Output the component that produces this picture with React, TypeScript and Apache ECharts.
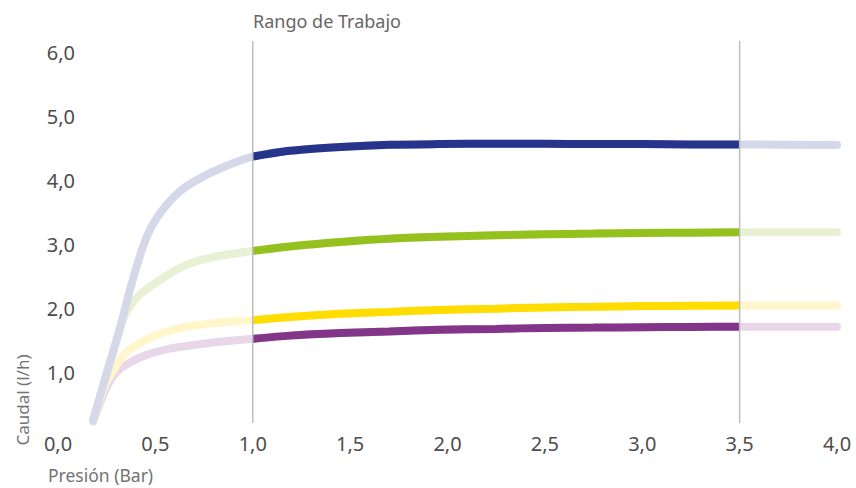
import React, { useEffect, useRef } from "react";
import * as echarts from "echarts";

// Working range (Rango de Trabajo)
const rangeStart = 1.0;
const rangeEnd = 3.5;
const rangeLineBottom = 0.22;
const rangeLineTop = 6.17;

// Curves: Caudal (l/h) vs Presión (Bar)
const blueX = [0.18, 0.24, 0.31, 0.37, 0.43, 0.48, 0.55, 0.635, 0.74, 0.86, 1.0, 1.19, 1.45, 1.70, 1.96, 2.25, 2.5, 2.75, 3.0, 3.25, 3.5, 4.0];
const blueY = [0.26, 0.89, 1.61, 2.30, 2.91, 3.28, 3.59, 3.85, 4.05, 4.22, 4.37, 4.46, 4.52, 4.555, 4.565, 4.57, 4.57, 4.565, 4.565, 4.56, 4.56, 4.55];

const greenX = [0.18, 0.24, 0.30, 0.344, 0.41, 0.53, 0.65, 0.79, 1.0, 1.19, 1.45, 1.70, 1.96, 2.25, 2.5, 2.75, 3.0, 3.25, 3.5, 4.0];
const greenY = [0.26, 0.89, 1.50, 1.90, 2.19, 2.46, 2.67, 2.80, 2.90, 2.97, 3.04, 3.09, 3.12, 3.145, 3.16, 3.17, 3.18, 3.185, 3.19, 3.19];

const yellowX = [0.18, 0.24, 0.276, 0.344, 0.48, 0.65, 0.82, 1.0, 1.19, 1.45, 1.70, 1.96, 2.25, 2.5, 2.75, 3.0, 3.25, 3.5, 4.0];
const yellowY = [0.26, 0.80, 0.99, 1.30, 1.56, 1.71, 1.78, 1.82, 1.87, 1.92, 1.95, 1.98, 2.00, 2.02, 2.03, 2.04, 2.045, 2.05, 2.05];

const purpleX = [0.18, 0.25, 0.31, 0.43, 0.58, 0.79, 1.0, 1.19, 1.45, 1.70, 1.96, 2.25, 2.5, 2.75, 3.0, 3.25, 3.5, 4.0];
const purpleY = [0.24, 0.78, 1.04, 1.25, 1.38, 1.47, 1.53, 1.58, 1.62, 1.645, 1.67, 1.685, 1.70, 1.705, 1.71, 1.715, 1.72, 1.72];

const curves = [
  { name: "purple", x: purpleX, y: purpleY, dark: "#833689", light: "#e7d7e9" },
  { name: "yellow", x: yellowX, y: yellowY, dark: "#ffdd00", light: "#fff6cc" },
  { name: "green", x: greenX, y: greenY, dark: "#95c11f", light: "#e8f1d4" },
  { name: "blue", x: blueX, y: blueY, dark: "#27348b", light: "#d5d8e9" },
];

const FONT = "'Noto Sans', sans-serif";
const fmt = (v: number) => v.toFixed(1).replace(".", ",");

export default function App() {
  const ref = useRef<HTMLDivElement>(null);
  useEffect(() => {
    const chart = echarts.init(ref.current!, null, { renderer: "svg" });
    const series: any[] = [];
    curves.forEach((c, i) => {
      series.push({
        type: "line",
        name: c.name + "-full",
        data: c.x.map((x, k) => [x, c.y[k]]),
        smooth: 0.25,
        symbol: "none",
        lineStyle: { color: c.light, width: 8, cap: "round" },
        z: 2 + i,
        silent: true,
      });
    });
    curves.forEach((c, i) => {
      series.push({
        type: "line",
        name: c.name + "-range",
        data: c.x
          .map((x, k) => [x, c.y[k]])
          .filter((p) => p[0] >= rangeStart && p[0] <= rangeEnd),
        smooth: 0.25,
        symbol: "none",
        lineStyle: { color: c.dark, width: 8, cap: "butt" },
        z: 10 + i,
        silent: true,
      });
    });
    [rangeStart, rangeEnd].forEach((x) => {
      series.push({
        type: "line",
        data: [
          [x, rangeLineBottom],
          [x, rangeLineTop],
        ],
        clip: false,
        symbol: "none",
        lineStyle: { color: "#bdbdbd", width: 1.5 },
        z: 20,
        silent: true,
      });
    });

    chart.setOption({
      animation: false,
      grid: { left: 58, right: 19, top: 52, bottom: 51, containLabel: false },
      xAxis: {
        type: "value",
        min: 0,
        max: 4,
        interval: 0.5,
        axisLine: { show: false },
        axisTick: { show: false },
        splitLine: { show: false },
        axisLabel: {
          formatter: fmt,
          color: "#4d4d4d",
          fontSize: 20,
          fontFamily: FONT,
          margin: -4,
        },
      },
      yAxis: {
        type: "value",
        min: 0,
        max: 6,
        interval: 1,
        axisLine: { show: false },
        axisTick: { show: false },
        splitLine: { show: false },
        axisLabel: {
          formatter: fmt,
          showMinLabel: false,
          color: "#4d4d4d",
          fontSize: 20,
          fontFamily: FONT,
          align: "right",
          margin: -17,
        },
      },
      graphic: [
        {
          type: "text",
          left: 253,
          top: 12,
          style: { text: "Rango de Trabajo", fill: "#666666", fontSize: 18, fontFamily: FONT },
        },
        {
          type: "text",
          x: 22,
          y: 400,
          rotation: Math.PI / 2,
          style: {
            text: "Caudal (l/h)",
            fill: "#737373",
            fontSize: 17,
            fontFamily: FONT,
            align: "center",
            verticalAlign: "middle",
          },
        },
        {
          type: "text",
          left: 48,
          top: 466,
          style: { text: "Presión (Bar)", fill: "#737373", fontSize: 17.5, fontFamily: FONT },
        },
      ],
      series,
    });
    return () => chart.dispose();
  }, []);
  return (
    <div
      ref={ref}
      style={{ position: "fixed", left: 0, top: 0, width: 856, height: 488, background: "#fff" }}
    />
  );
}
